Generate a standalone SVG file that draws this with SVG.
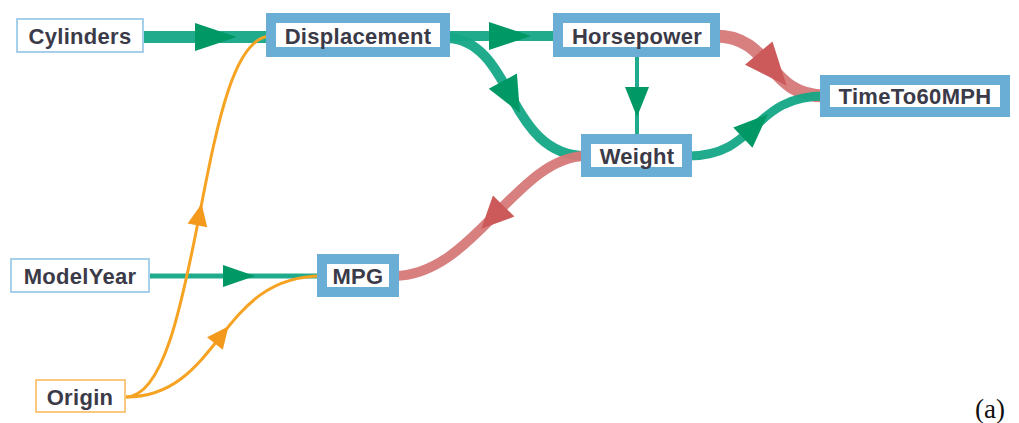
<svg xmlns="http://www.w3.org/2000/svg" width="1019" height="423" viewBox="0 0 1019 423">
<style>
.lbl{font-family:"Liberation Sans",Arial,sans-serif;font-size:22px;font-weight:bold;fill:#3a3a48;text-anchor:middle;letter-spacing:0.3px}
.thick{fill:#ffffff;stroke:#6aaed6;stroke-width:10}
.thinb{fill:#ffffff;stroke:#a6d0ea;stroke-width:2}
.thino{fill:#ffffff;stroke:#f9c77e;stroke-width:2}
.eg{fill:none;stroke:#14a886;stroke-opacity:0.95}
.er{fill:none;stroke:#d67878;stroke-opacity:0.95}
.eo{fill:none;stroke:#f6a324}
</style>
<defs>
<marker id="mG1" markerUnits="userSpaceOnUse" markerWidth="42" markerHeight="28" viewBox="0 0 42 28" refX="21" refY="14" orient="auto" overflow="visible"><path d="M0 0 L42 14 L0 28 Z" fill="#009966"/></marker>
<marker id="mG2" markerUnits="userSpaceOnUse" markerWidth="30" markerHeight="24" viewBox="0 0 30 24" refX="15" refY="12" orient="auto" overflow="visible"><path d="M0 0 L30 12 L0 24 Z" fill="#009966"/></marker>
<marker id="mG3" markerUnits="userSpaceOnUse" markerWidth="32" markerHeight="22" viewBox="0 0 32 22" refX="16" refY="11" orient="auto" overflow="visible"><path d="M0 0 L32 11 L0 22 Z" fill="#009966"/></marker>
<marker id="mG4" markerUnits="userSpaceOnUse" markerWidth="34" markerHeight="28" viewBox="0 0 34 28" refX="17" refY="14" orient="auto" overflow="visible"><path d="M0 0 L34 14 L0 28 Z" fill="#009966"/></marker>
<marker id="mG5" markerUnits="userSpaceOnUse" markerWidth="36" markerHeight="32" viewBox="0 0 36 32" refX="18" refY="16" orient="auto" overflow="visible"><path d="M0 0 L36 16 L0 32 Z" fill="#009966"/></marker>
<marker id="mR1" markerUnits="userSpaceOnUse" markerWidth="43" markerHeight="36" viewBox="0 0 43 36" refX="17" refY="18" orient="auto" overflow="visible"><path d="M0 0 L43 18 L0 36 Z" fill="#cc5a5a"/></marker>
<marker id="mR2" markerUnits="userSpaceOnUse" markerWidth="32" markerHeight="30" viewBox="0 0 32 30" refX="14" refY="15" orient="auto" overflow="visible"><path d="M0 0 L32 15 L0 30 Z" fill="#cc5a5a"/></marker>
<marker id="mO" markerUnits="userSpaceOnUse" markerWidth="22" markerHeight="20" viewBox="0 0 22 20" refX="9" refY="10" orient="auto" overflow="visible"><path d="M0 0 L22 10 L0 20 Z" fill="#f39a1c"/></marker>
</defs>
<g id="connectors">
<path class="eg" stroke-width="12" d="M143 37 L216 37 L270 37" marker-mid="url(#mG1)"/>
<path class="eg" stroke-width="10" d="M446 36 L510 36 L558 36" marker-mid="url(#mG1)"/>
<path class="eg" stroke-width="10" d="M446 38 C479 38 495.5 67.5 511.375 97 C527.25 126.5 546.5 156 586 156" marker-mid="url(#mG5)"/>
<path class="eg" stroke-width="4" d="M637 54 L637 102 L637 139" marker-mid="url(#mG2)"/>
<path class="er" stroke-width="13" d="M715 36 C744 36 757 51 769.75 66 C782.5 81 795 96 825 96" marker-mid="url(#mR1)"/>
<path class="eg" stroke-width="9" d="M688 156 C723.5 156 739.25 141 755.25 126 C771.25 111 787.5 96 825 96" marker-mid="url(#mG4)"/>
<path class="er" stroke-width="10" d="M586 156 C551.5 156 523.25 186 493.875 216 C464.5 246 434 276 394 276" marker-mid="url(#mR2)"/>
<path class="eg" stroke-width="5" d="M149 276 L239 276 L322 276" marker-mid="url(#mG3)"/>
<path class="eo" stroke-width="3" d="M126 397 C163 397 181.5 306.75 199.125 216.5 C216.75 126.25 233.5 36 271 36" marker-mid="url(#mO)"/>
<path class="eo" stroke-width="3" d="M126 397 C173 397 196.5 366.75 220.5 336.5 C244.5 306.25 269 276 322 276" marker-mid="url(#mO)"/>
</g>
<g id="node-cylinders"><rect class="thinb" x="17" y="19" width="126" height="33"/><text class="lbl" x="80" y="44">Cylinders</text></g>
<g id="node-displacement"><rect class="thick" x="271" y="18" width="174" height="34"/><text class="lbl" x="358" y="44">Displacement</text></g>
<g id="node-horsepower"><rect class="thick" x="558" y="18" width="157" height="34"/><text class="lbl" x="637" y="44">Horsepower</text></g>
<g id="node-timeto60mph"><rect class="thick" x="825" y="80" width="180" height="32"/><text class="lbl" x="915" y="104">TimeTo60MPH</text></g>
<g id="node-weight"><rect class="thick" x="586" y="139" width="101" height="33"/><text class="lbl" x="637" y="164">Weight</text></g>
<g id="node-modelyear"><rect class="thinb" x="11" y="259" width="138" height="33"/><text class="lbl" x="80" y="284">ModelYear</text></g>
<g id="node-mpg"><rect class="thick" x="322" y="259" width="72" height="33"/><text class="lbl" x="358" y="284">MPG</text></g>
<g id="node-origin"><rect class="thino" x="36" y="380" width="89" height="32"/><text class="lbl" x="80" y="405">Origin</text></g>
<text x="990" y="418" font-family="'Liberation Serif','Times New Roman',serif" font-size="27" fill="#111" text-anchor="middle">(a)</text>
</svg>
